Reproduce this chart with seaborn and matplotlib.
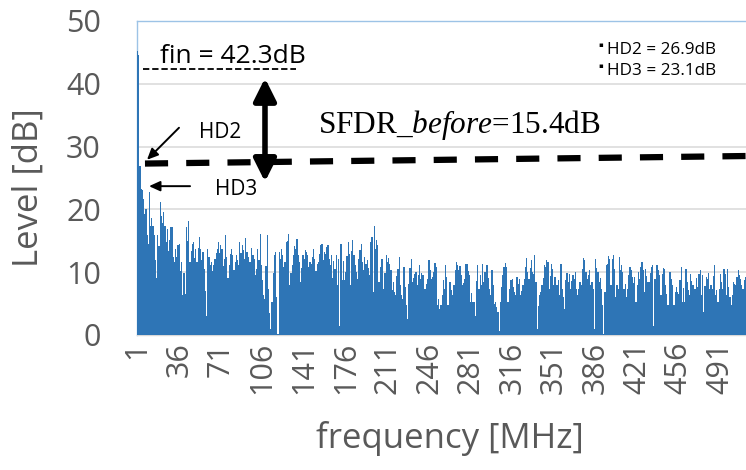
import numpy as np
import pandas as pd
import matplotlib
matplotlib.use("Agg")
import matplotlib.pyplot as plt
import seaborn as sns
from matplotlib.patches import FancyArrowPatch

# ---------------- data ----------------
levels_part1 = [
    45.3, 44.6, 26.9, 23.3, 23.1, 21.7, 19.2, 20.1, 16.0, 14.5,
    22.8, 17.4, 18.6, 17.4, 15.9, 12.0, 9.0, 15.9, 14.2, 21.2,
    19.0, 17.8, 19.6, 17.4, 14.8, 16.9, 13.3, 15.2, 17.2, 17.2,
    12.4, 11.6, 13.7, 12.5, 14.3, 14.5, 10.2, 11.6, 6.3, 9.8,
    6.5, 17.2, 15.0, 18.2, 11.6, 13.4, 14.5, 14.8, 12.2, 13.7,
    11.6, 13.9, 15.6, 13.7, 12.0, 13.2, 10.5, 7.0, 3.1, 13.7,
    12.4, 11.1, 11.6, 10.2, 11.1, 12.1, 13.0, 13.7, 14.8, 13.1,
    14.3, 13.7, 11.0, 12.1, 15.9, 12.5, 9.0, 11.1, 12.9, 13.7,
    12.7, 10.3, 11.6, 12.7, 12.0, 11.1, 14.8, 13.0, 14.3, 13.5,
    12.1, 15.4, 13.2, 12.4, 11.6, 11.6, 13.8, 12.7, 12.1, 9.6,
    10.5, 13.7, 11.9, 16.1, 11.1, 8.7, 6.3, 5.7, 11.0, 15.9,
    7.3, 3.5, 1.0, 5.2, 9.8, 12.7, 13.2, 6.0, 0.2, 13.2,
    12.1, 13.7, 12.7, 10.9, 11.6, 14.8, 15.0, 16.1, 7.9, 9.9,
    11.1, 12.7, 14.1, 13.7, 15.3, 12.8, 11.6, 8.4, 10.7, 12.7,
    12.1, 13.6, 13.2, 12.7, 10.9, 11.6, 11.3, 12.5, 13.7, 12.1,
    10.2, 11.3, 11.6, 12.9, 14.3, 14.5, 12.0, 13.2, 12.9, 14.0,
    14.3, 12.1, 11.2, 12.7, 9.0, 11.8, 10.5, 12.7, 7.9, 12.1,
    1.5,
]
levels_part2 = [
    14.5, 8.7, 11.8, 8.7, 10.0, 12.6, 14.8,
    12.9, 7.9, 13.4, 15.1, 12.7, 11.2, 10.0,
    8.9, 12.1, 13.6, 14.5, 11.6, 10.4, 12.4,
    11.3, 11.9, 10.7, 9.5, 14.8, 15.6, 6.8,
    17.4, 13.7, 15.2, 14.3, 8.4, 10.9, 12.1,
    12.1, 7.3, 9.8, 12.7, 11.6, 12.2, 11.3,
    10.3, 7.1, 8.5, 6.8, 6.3, 9.4, 10.5,
    12.4, 7.9, 6.4, 5.7, 10.8, 7.6, 4.7,
    2.6, 8.1, 10.6, 12.1, 8.4, 9.1, 9.7,
    10.0, 7.9, 9.6, 11.1, 8.9, 9.9, 9.5,
    7.3, 7.3, 8.2, 8.9, 11.9, 10.3, 8.9,
    9.2, 10.0, 11.4, 10.8, 4.7, 5.8, 4.1,
    4.7, 6.3, 8.8, 7.3, 11.1, 9.3, 4.7,
    8.4, 8.4, 7.2, 6.3, 7.9, 10.4, 11.6,
    11.1, 10.3, 11.0, 9.5, 7.9, 8.3, 8.9,
    11.3, 11.3, 10.2, 9.5, 5.2, 6.7, 5.2,
    5.2, 3.1, 8.6, 11.1, 7.3, 9.6, 7.9,
    11.3, 8.4, 10.1, 11.1, 11.1, 9.0, 7.3,
    6.3, 10.3, 7.9, 4.9, 5.2, 4.4, 3.6,
    0.7, 5.2, 7.7, 9.5, 10.8, 11.5, 10.8,
    5.2, 5.2, 7.4, 8.7, 8.9, 7.7, 6.8,
    6.3, 9.2, 8.1, 8.9, 6.3, 7.0, 7.9,
    8.9, 10.8, 12.3, 10.0, 8.9, 10.6, 11.9,
    10.0, 9.7, 12.8, 8.4, 1.0, 4.6, 6.3,
    6.8, 7.9, 9.1,
]
levels_part3 = [
    11.1, 10.8, 11.9, 11.6, 7.3, 9.4, 11.3,
    10.5, 7.9, 9.2, 7.9, 7.9, 8.8, 6.3,
    11.3, 7.3, 6.1, 4.1, 8.7, 9.9, 8.4,
    9.7, 7.3, 8.6, 9.5, 8.9, 10.1, 7.3,
    6.3, 7.3, 8.5, 7.9, 10.5, 12.3, 11.9,
    10.0, 8.9, 9.6, 10.3, 7.9, 8.4, 7.3,
    1.0, 12.1, 10.6, 10.0, 8.4, 9.1, 7.3,
    4.7, 0.2, 6.8, 11.1, 11.3, 12.6, 12.1,
    7.9, 12.1, 12.8, 10.5, 6.0, 8.0, 7.3,
    12.4, 10.3, 11.2, 10.0, 7.3, 8.1, 6.0,
    7.3, 9.5, 10.9, 10.3, 9.2, 8.3, 9.2,
    5.2, 7.9, 10.0, 8.9, 10.8, 11.6, 10.3,
    6.8, 10.5, 9.4, 8.4, 8.4, 9.8, 10.8,
    11.1, 1.5, 8.9, 11.1, 11.1, 10.4, 9.5,
    6.3, 9.7, 10.6, 10.5, 7.9, 6.6, 4.7,
    10.0, 10.0, 8.9, 7.9, 4.7, 6.9, 7.6,
    6.8, 6.5, 8.8, 10.8, 5.2, 7.5, 5.2,
    10.5, 8.4, 7.1, 6.3, 9.7, 8.6, 7.9,
    7.3, 7.3, 9.1, 7.6, 9.7, 10.4, 6.3,
    9.5, 3.6, 7.8, 9.2, 8.9, 9.8, 7.3,
    7.9, 7.3, 9.4, 11.1, 6.3, 7.2, 5.2,
    7.3, 9.7, 8.4, 7.3, 10.5, 9.7, 6.3,
    10.5, 7.6, 6.0, 4.7, 6.3, 8.5, 8.1,
    7.9, 9.2, 10.3, 9.5, 8.9, 8.0, 7.3,
    8.7, 9.2,
]
levels = levels_part1 + levels_part2 + levels_part3
frequencies = list(range(1, len(levels) + 1))   # MHz
tick_labels = [1, 36, 71, 106, 141, 176, 211, 246, 281, 316, 351, 386, 421, 456, 491]
y_ticks = [0, 10, 20, 30, 40, 50]

fin_level = 42.3
hd2_level = 26.9
hd3_level = 23.1
sfdr_value = 15.4
sfdr_line = [27.3, 28.5]   # start / end level of the SFDR reference line

df = pd.DataFrame({"freq": frequencies, "level": levels})

# ---------------- style ----------------
sns.set_style("white")
plt.rcParams["font.family"] = ["Open Sans", "DejaVu Sans"]
plt.rcParams["mathtext.fontset"] = "custom"
plt.rcParams["mathtext.rm"] = "Liberation Serif"
plt.rcParams["mathtext.it"] = "Liberation Serif:italic"

GRAY = "#595959"
BLUE = "#2E75B6"

fig = plt.figure(figsize=(7.46, 4.70), dpi=100)
ax = fig.add_axes([137 / 746, 1 - 335 / 470, 609 / 746, 314 / 470])

sns.barplot(data=df, x="freq", y="level", color=BLUE, saturation=1,
            width=1.0, linewidth=0, errorbar=None, ax=ax, zorder=3)

ax.set_xlim(-0.5, len(levels) - 0.5)
ax.set_ylim(0, 50)
ax.set_yticks(y_ticks)
ax.set_xticks([f - 1 for f in tick_labels])
ax.set_xticklabels([str(t) for t in tick_labels], rotation=90)

ax.yaxis.grid(True, color="#D9D9D9", lw=1.1, zorder=0)
ax.xaxis.grid(False)
ax.set_axisbelow(True)

ax.spines["right"].set_visible(False)
ax.spines["top"].set_color("#9DC3E6")
ax.spines["left"].set_color("#9DC3E6")
ax.spines["bottom"].set_color("#D9D9D9")
for s in ["top", "left", "bottom"]:
    ax.spines[s].set_linewidth(1.0)
    ax.spines[s].set_zorder(1)

ax.tick_params(axis="both", length=0, labelsize=22, labelcolor=GRAY)
ax.tick_params(axis="y", pad=26)
ax.tick_params(axis="x", pad=5)

ax.set_xlabel("frequency [MHz]", fontsize=25, color=GRAY)
ax.set_ylabel("Level [dB]", fontsize=25, color=GRAY)
ax.xaxis.set_label_coords(0.514, -0.275)
ax.yaxis.set_label_coords(-0.150, 0.47)

# ---------------- annotations ----------------
ax.plot([4.5, 133.2], [fin_level, fin_level], color="black", lw=1.3,
        dashes=(3.5, 1.6), zorder=5)
ax.text(18.8, 43.3, f"fin = {fin_level}dB", fontsize=19, color="black",
        ha="left", va="baseline", zorder=5)

ax.plot([6.2, len(levels) - 0.5], sfdr_line, color="black", lw=4.5,
        dashes=(3.7, 2.9), dash_capstyle="butt", zorder=5)

arr = FancyArrowPatch((107.1, 40.9), (107.1, 24.4),
                      arrowstyle="<|-|>,head_length=0.9,head_width=0.45",
                      mutation_scale=15, lw=4, color="black",
                      shrinkA=0, shrinkB=0, zorder=6)
ax.add_patch(arr)

ax.text(151.7, 33.4, rf"SFDR_$before$={sfdr_value}dB", fontsize=22.5,
        color="black", family="Liberation Serif", ha="left", va="center",
        zorder=5)

arrow_kw = dict(arrowstyle="-|>,head_length=0.55,head_width=0.25",
                mutation_scale=12, lw=1.4, color="black",
                shrinkA=0, shrinkB=0)
ax.annotate("", xy=(7.9, 27.9), xytext=(34.8, 33.0), arrowprops=arrow_kw,
            zorder=6)
ax.annotate("", xy=(9.6, 23.7), xytext=(44.1, 23.7), arrowprops=arrow_kw,
            zorder=6)
ax.text(69.3, 32.3, "HD2", fontsize=15, color="black", ha="center",
        va="center", zorder=5)
ax.text(82.7, 23.1, "HD3", fontsize=15, color="black", ha="center",
        va="center", zorder=5)

ax.text(395, 45.4, f"HD2 = {hd2_level}dB", fontsize=12.3, color="black",
        ha="left", va="center", zorder=5)
ax.text(395, 42.0, f"HD3 = {hd3_level}dB", fontsize=12.3, color="black",
        ha="left", va="center", zorder=5)
ax.text(389.5, 46.2, "\u25aa", fontsize=5, color="black", ha="center",
        va="center", family="DejaVu Sans", zorder=5)
ax.text(389.5, 42.8, "\u25aa", fontsize=5, color="black", ha="center",
        va="center", family="DejaVu Sans", zorder=5)

fig.savefig("out.png", dpi=100)
